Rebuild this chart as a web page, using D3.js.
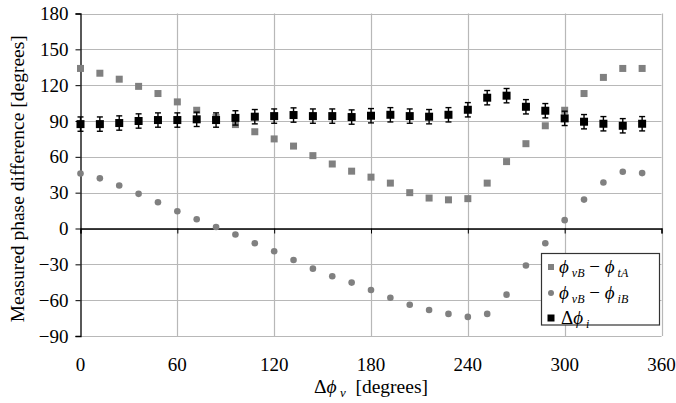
<!DOCTYPE html>
<html><head><meta charset="utf-8">
<script src="https://cdn.jsdelivr.net/npm/d3@7"></script>
<style>body{margin:0;background:#fff}svg{display:block}</style>
</head><body><svg id="c" width="676" height="403" font-family="Liberation Serif"></svg>
<script>
const dphiV = [0,12,24,36,48,60,72,84,96,108,120,132,144,156,168,180,192,204,216,228,240,252,264,276,288,300,312,324,336,348];
const vB_tA = [134,130,125,119,113,106,99,93,87,81,75,69,61,54,48,43,38,30,25.5,24,25,38,56,71,86,99,113,126.5,134,134];
const vB_iB = [46,42,36,29,22,14.5,7.7,1.3,-5,-12.4,-19,-26.4,-33.6,-40,-45.3,-51.5,-58,-63.8,-68.2,-71.5,-74,-71.5,-55.4,-31,-12.4,7,24.2,38.5,47.5,46.4];
const dphiI = [87.4,87.4,88.3,90,90.8,90.8,91.4,90.8,92.6,93.6,94.1,95,94.1,94.1,93.3,94.4,95.2,94.1,93.6,95.2,99.4,109.5,111.2,101.9,98.6,92.2,89.4,87.7,86,87.7];
const dphiIErr = [6,6,6,6,6,6,6,6,6,6,6,6,6,6,6,6,6,6,6,6,6,6,6,6,6,6,6,6,6,6];
const xTicks = [0,60,120,180,240,300,360];
const yTicks = [-90,-60,-30,0,30,60,90,120,150,180];

const FONT = "Liberation Serif";
const svg = d3.select("#c");
const L=80.5, R=661.5, T=13.5, B=336;
const x = d3.scaleLinear().domain([0,360]).range([L,R]);
const y = d3.scaleLinear().domain([-90,180]).range([B,T]);
const grid="#b8b8b8", gray="#808080";

// grid
svg.append("g").selectAll("line").data(yTicks).join("line")
  .attr("x1",L).attr("x2",R).attr("y1",d=>Math.round(y(d))+0.5).attr("y2",d=>Math.round(y(d))+0.5)
  .attr("stroke",grid).attr("stroke-width",1.2);
svg.append("g").selectAll("line").data(xTicks.slice(1)).join("line")
  .attr("x1",d=>Math.round(x(d))+0.5).attr("x2",d=>Math.round(x(d))+0.5).attr("y1",T).attr("y2",B)
  .attr("stroke",grid).attr("stroke-width",1.2);

// y axis
const ya = svg.append("g").attr("transform",`translate(${L},0)`)
  .call(d3.axisLeft(y).tickValues(yTicks).tickSize(5).tickPadding(7).tickFormat(d3.format("d")));
ya.attr("font-family",FONT).attr("font-size",19);
ya.select(".domain").attr("stroke","#000").attr("stroke-width",1.3);
ya.selectAll(".tick line").attr("stroke","#000");
ya.selectAll(".tick text").attr("font-family",FONT).attr("font-size",19).attr("fill","#000");

// zero line (x axis) with ticks
const xa = svg.append("g").attr("transform",`translate(0,${y(0)})`)
  .call(d3.axisBottom(x).tickValues(xTicks).tickSize(5).tickFormat(""));
xa.select(".domain").attr("stroke","#000").attr("stroke-width",1.3);
xa.selectAll(".tick line").attr("stroke","#000");

// x tick labels at bottom
svg.append("g").attr("font-family",FONT).selectAll("text").data(xTicks).join("text")
  .attr("x",d=>x(d)).attr("y",B+35).attr("text-anchor","middle").attr("font-size",19)
  .attr("font-family",FONT).text(d=>d);

// axis titles
svg.append("text").attr("transform",`translate(24,${(T+B)/2+4}) rotate(-90)`).attr("text-anchor","middle")
  .attr("font-family",FONT).attr("font-size",19.5).text("Measured phase difference [degrees]");
const xt = svg.append("text").attr("x",(L+R)/2).attr("y",393).attr("text-anchor","middle")
  .attr("font-family",FONT).attr("font-size",19.5);
xt.append("tspan").text("Δ");
xt.append("tspan").attr("font-style","italic").text("ϕ");
xt.append("tspan").attr("font-size",13).attr("font-style","italic").attr("dy",4).text(" v");
xt.append("tspan").attr("dy",-4).text("\u00a0\u00a0[degrees]");

// series
const idx = d3.range(dphiV.length);
svg.append("g").selectAll("rect").data(idx).join("rect")
  .attr("x",i=>x(dphiV[i])-3.5).attr("y",i=>y(vB_tA[i])-3.5).attr("width",7).attr("height",7).attr("fill",gray);
svg.append("g").selectAll("circle").data(idx).join("circle")
  .attr("cx",i=>x(dphiV[i])).attr("cy",i=>y(vB_iB[i])).attr("r",3.3).attr("fill",gray);
const eb = svg.append("g").attr("stroke","#000").attr("stroke-width",1.4);
idx.forEach(i=>{
  const cx=x(dphiV[i]), y1=y(dphiI[i]+dphiIErr[i]), y2=y(dphiI[i]-dphiIErr[i]);
  eb.append("line").attr("x1",cx).attr("x2",cx).attr("y1",y1).attr("y2",y2);
  eb.append("line").attr("x1",cx-3).attr("x2",cx+3).attr("y1",y1).attr("y2",y1);
  eb.append("line").attr("x1",cx-3).attr("x2",cx+3).attr("y1",y2).attr("y2",y2);
});
svg.append("g").selectAll("rect").data(idx).join("rect")
  .attr("x",i=>x(dphiV[i])-4).attr("y",i=>y(dphiI[i])-4).attr("width",8).attr("height",8).attr("fill","#000");

// legend
const lg = svg.append("g").attr("font-family",FONT);
lg.append("rect").attr("x",541.5).attr("y",253.5).attr("width",118).attr("height",71.5)
  .attr("fill","#fff").attr("stroke","#333").attr("stroke-width",1.2);
const entries = [
  {sym:"sq", color:gray, sub1:"vB", sub2:"tA", yy:267},
  {sym:"ci", color:gray, sub1:"vB", sub2:"iB", yy:293},
  {sym:"bk", color:"#000", yy:318}
];
entries.forEach(e=>{
  if(e.sym==="sq") lg.append("rect").attr("x",548).attr("y",e.yy-3).attr("width",6).attr("height",6).attr("fill",e.color);
  if(e.sym==="ci") lg.append("circle").attr("cx",551).attr("cy",e.yy).attr("r",3).attr("fill",e.color);
  if(e.sym==="bk") lg.append("rect").attr("x",547.5).attr("y",e.yy-3.5).attr("width",7).attr("height",7).attr("fill",e.color);
  const t = lg.append("text").attr("x",559).attr("y",e.yy+6).attr("font-size",19).attr("font-family",FONT);
  if(e.sym!=="bk"){
    t.append("tspan").attr("font-style","italic").text("ϕ");
    t.append("tspan").attr("font-size",12).attr("font-style","italic").attr("dy",4).text(" "+e.sub1);
    t.append("tspan").attr("dy",-4).text(" − ");
    t.append("tspan").attr("font-style","italic").text("ϕ");
    t.append("tspan").attr("font-size",12).attr("font-style","italic").attr("dy",4).text(" "+e.sub2);
  } else {
    t.attr("x",561);
    t.append("tspan").text("Δ");
    t.append("tspan").attr("font-style","italic").text("ϕ");
    t.append("tspan").attr("font-size",12).attr("font-style","italic").attr("dy",4).text(" i");
  }
});
</script></body></html>
